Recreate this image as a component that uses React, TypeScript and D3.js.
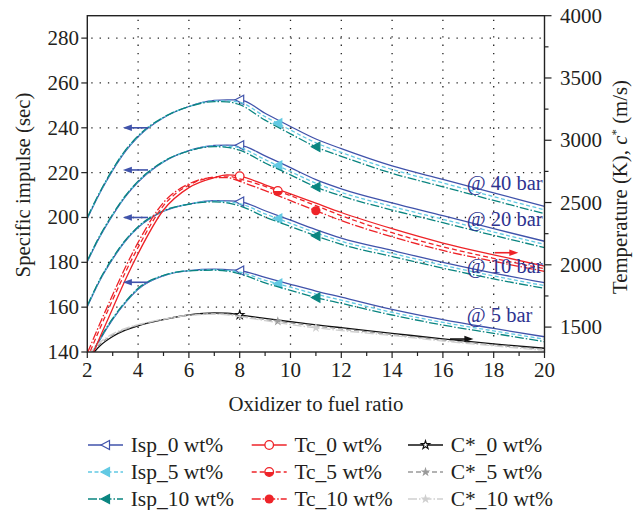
import * as d3 from "d3";

// O/F ratios shared by every series
const ratios = [2, 2.5, 3, 3.5, 4, 5, 6, 7, 7.5, 8, 9, 10, 11, 12, 14, 16, 18, 20];

// specific impulse (sec), 0 / 5 / 10 wt% at each chamber pressure
const isp0At40 = [199.5, 211, 221, 229.5, 236, 244.5, 249.5, 252.2, 252.5, 252.5, 246.5, 240.6, 235, 230.7, 223, 217, 211, 205];
const isp5At40 = [199.8, 211.3, 221.3, 229.8, 236.2, 244.6, 249.5, 252, 252, 251.4, 245, 239, 233.3, 229, 221.4, 215.4, 209.3, 203.4];
const isp10At40 = [200, 211.5, 221.5, 230, 236.4, 244.7, 249.4, 251.7, 251.6, 250.3, 243.4, 237.3, 231.5, 227.3, 219.7, 213.7, 207.6, 201.7];

const isp0At20 = [180.3, 191.5, 201, 209.3, 215.8, 224.8, 229.8, 232.1, 232.3, 232.2, 227.5, 222.2, 216.9, 212.8, 206.5, 200.8, 195, 189.4];
const isp5At20 = [180.6, 191.8, 201.3, 209.5, 216, 224.9, 229.8, 231.9, 231.8, 231.1, 225.8, 220.5, 215.3, 211.2, 204.9, 199.2, 193.5, 188];
const isp10At20 = [180.8, 192, 201.5, 209.7, 216.2, 225, 229.7, 231.6, 231.3, 230, 224.3, 219, 213.6, 209.6, 203.3, 197.7, 192, 186.6];

const isp0At10 = [160.2, 172, 181.5, 189.5, 195.5, 202.8, 206, 207.5, 207.4, 207.1, 203, 198.8, 194.6, 190.8, 185.3, 180, 175.2, 170.9];
const isp5At10 = [160.5, 172.3, 181.8, 189.7, 195.7, 202.9, 206, 207.3, 207, 206.2, 201.6, 197.4, 193.2, 189.4, 184, 178.7, 173.9, 169.6];
const isp10At10 = [160.7, 172.5, 182, 189.9, 195.9, 203, 205.9, 207, 206.5, 205.2, 200.2, 196, 191.8, 188, 182.6, 177.4, 172.6, 168.4];

const isp0At5 = [135, 145.5, 154.5, 162, 168, 174, 176.3, 176.9, 176.7, 176.3, 173.3, 170.2, 167.2, 164.5, 159, 154.4, 150.5, 146.8];
const isp5At5 = [135.3, 145.8, 154.8, 162.2, 168.2, 174.1, 176.3, 176.7, 176.4, 175.6, 172, 168.9, 165.8, 163.1, 157.7, 153.2, 149.4, 145.7];
const isp10At5 = [135.5, 146, 155, 162.4, 168.4, 174.2, 176.2, 176.5, 176.1, 174.9, 170.8, 167.5, 164.3, 161.7, 156.5, 152, 148.3, 144.6];

// chamber temperature (K)
const tc0 = [1180, 1420, 1650, 1880, 2090, 2440, 2620, 2700, 2722, 2712, 2642, 2570, 2495, 2420, 2290, 2175, 2080, 1990];
const tc5 = [1250, 1490, 1720, 1940, 2140, 2475, 2640, 2705, 2712, 2690, 2630, 2555, 2475, 2395, 2258, 2145, 2052, 1968];
const tc10 = [1290, 1530, 1760, 1980, 2180, 2500, 2650, 2700, 2700, 2670, 2595, 2515, 2434, 2355, 2225, 2115, 2028, 1948];

// characteristic velocity (m/s)
const cStar0 = [1230, 1350, 1425, 1475, 1510, 1560, 1597, 1613, 1612, 1598, 1570, 1543, 1517, 1495, 1450, 1405, 1365, 1330];
const cStar5 = [1250, 1365, 1435, 1482, 1515, 1562, 1596, 1608, 1604, 1590, 1560, 1533, 1508, 1485, 1440, 1396, 1356, 1321];
const cStar10 = [1265, 1378, 1445, 1490, 1520, 1564, 1594, 1603, 1598, 1583, 1552, 1520, 1494, 1472, 1432, 1388, 1349, 1313];

const xTicks = [2, 4, 6, 8, 10, 12, 14, 16, 18, 20];
const xGrid = [4, 6, 8, 10, 12, 14, 16, 18];
const leftTicks = [140, 160, 180, 200, 220, 240, 260, 280];
const rightTicks = [1500, 2000, 2500, 3000, 3500, 4000];
const markerRatios = [8, 9.5, 11];
const pressureLabels = ["@ 40 bar", "@ 20 bar", "@ 10 bar", "@ 5 bar"];
const pressureLabelIsp = [212.3, 196.4, 175.2, 153.6];

const W = 643;
const H = 510;
const FONT = "'Liberation Serif', 'Times New Roman', serif";
const BLUE = "#4053ab";
const CYAN = "#62c9e3";
const TEAL = "#0a8580";
const RED = "#ee2328";
const NAVY = "#2e3390";
const INK = "#231f20";

const x = d3.scaleLinear().domain([2, 20]).range([87.3, 544.5]);
const yL = d3.scaleLinear().domain([140, 290]).range([352, 15.7]);
const yR = d3.scaleLinear().domain([1300, 4000]).range([352, 15.7]);

type Marker = "triOpen" | "tri" | "circOpen" | "circHalf" | "circ" | "starOpen" | "star";
interface Style { color: string; dash?: string; marker: Marker; fill: string; }

const ispStyles: Style[] = [
  { color: BLUE, marker: "triOpen", fill: "#fff" },
  { color: CYAN, dash: "4 2.5", marker: "tri", fill: CYAN },
  { color: TEAL, dash: "9 2 1.5 2", marker: "tri", fill: TEAL },
];
const tcStyles: Style[] = [
  { color: RED, marker: "circOpen", fill: "#fff" },
  { color: RED, dash: "5 3", marker: "circHalf", fill: RED },
  { color: RED, dash: "9 2 1.5 2", marker: "circ", fill: RED },
];
const cStyles: Style[] = [
  { color: "#111", marker: "starOpen", fill: "#fff" },
  { color: "#9a9a9a", dash: "5 3", marker: "star", fill: "#9a9a9a" },
  { color: "#cfcfcf", dash: "9 2 1.5 2", marker: "star", fill: "#cfcfcf" },
];

const ispGroups = [
  [isp0At40, isp5At40, isp10At40],
  [isp0At20, isp5At20, isp10At20],
  [isp0At10, isp5At10, isp10At10],
  [isp0At5, isp5At5, isp10At5],
];
const tcGroup = [tc0, tc5, tc10];
const cGroup = [cStar0, cStar5, cStar10];

function valueAt(values: number[], r: number) {
  const i = d3.bisectLeft(ratios, r);
  if (ratios[i] === r) return values[i];
  const t = (r - ratios[i - 1]) / (ratios[i] - ratios[i - 1]);
  return values[i - 1] + t * (values[i] - values[i - 1]);
}

function linePath(values: number[], y: d3.ScaleLinear<number, number>) {
  return d3
    .line<number>()
    .x((_, i) => x(ratios[i]))
    .y((v) => y(v))
    .curve(d3.curveMonotoneX)(values) ?? "";
}

const starPath = d3.symbol(d3.symbolStar, 30)() ?? "";

function MarkerShape({ kind, color, fill, cx, cy }: { kind: Marker; color: string; fill: string; cx: number; cy: number }) {
  const t = `translate(${cx},${cy})`;
  if (kind === "triOpen" || kind === "tri")
    return <path transform={t} d="M-4.5,0L4,-4.6L4,4.6Z" fill={fill} stroke={color} strokeWidth={1.2} />;
  if (kind === "circOpen")
    return <circle cx={cx} cy={cy} r={4.3} fill="#fff" stroke={color} strokeWidth={1.3} />;
  if (kind === "circHalf")
    return (
      <g transform={t}>
        <circle r={4.3} fill="#fff" stroke={color} strokeWidth={1.3} />
        <path d="M-4.3,0A4.3,4.3 0 0 0 4.3,0Z" fill={color} />
      </g>
    );
  if (kind === "circ") return <circle cx={cx} cy={cy} r={4.6} fill={color} />;
  if (kind === "starOpen")
    return <path transform={t} d={d3.symbol(d3.symbolStar, 22)() ?? ""} fill="#fff" stroke={color} strokeWidth={1.1} />;
  return <path transform={t} d={starPath} fill={fill} />;
}

function Series({ values, style, y, mx }: { values: number[]; style: Style; y: d3.ScaleLinear<number, number>; mx: number }) {
  return (
    <g>
      <path d={linePath(values, y)} fill="none" stroke={style.color} strokeWidth={1.3} strokeDasharray={style.dash} clipPath="url(#plot)" />
      <MarkerShape kind={style.marker} color={style.color} fill={style.fill} cx={x(mx)} cy={y(valueAt(values, mx))} />
    </g>
  );
}

function Arrow({ x1, x2, y, color }: { x1: number; x2: number; y: number; color: string }) {
  const dir = Math.sign(x2 - x1);
  return (
    <g>
      <line x1={x1} x2={x2 - dir * 6} y1={y} y2={y} stroke={color} strokeWidth={1.6} />
      <path d={`M${x2},${y}L${x2 - dir * 9},${y - 3.2}L${x2 - dir * 9},${y + 3.2}Z`} fill={color} />
    </g>
  );
}

export default function App() {
  const top = yL.range()[1];
  const bottom = yL.range()[0];
  const left = x.range()[0];
  const right = x.range()[1];
  const minorX = d3.range(3, 20, 2);
  const minorR = d3.range(1500, 4000, 250).filter((v) => v % 500 !== 0);
  const legendLeft = [88, 251.7, 408];
  const legendRows = [445, 472, 499];
  const legendItems = [
    { name: "Isp", styles: ispStyles },
    { name: "Tc", styles: tcStyles },
    { name: "C*", styles: cStyles },
  ];
  const loadings = ["0 wt%", "5 wt%", "10 wt%"];

  return (
    <svg width={W} height={H} style={{ position: "absolute", left: 0, top: 0, background: "#fff" }} fontFamily={FONT}>
      <defs>
        <clipPath id="plot">
          <rect x={left} y={top} width={right - left} height={bottom - top} />
        </clipPath>
      </defs>

      {/* dotted grid */}
      <g stroke="#222" strokeWidth={1.3} strokeDasharray="1.3 7">
        {xGrid.map((t) => (
          <line key={t} x1={x(t)} x2={x(t)} y1={top + 4} y2={bottom} />
        ))}
        {leftTicks.slice(1).map((t) => (
          <line key={t} x1={left + 4} x2={right} y1={yL(t)} y2={yL(t)} />
        ))}
      </g>

      {/* curves */}
      {ispGroups.map((g, gi) =>
        g.map((values, li) => (
          <Series key={`i${gi}${li}`} values={values} style={ispStyles[li]} y={yL} mx={markerRatios[li]} />
        ))
      )}
      {cGroup.map((values, li) => (
        <Series key={`c${li}`} values={values} style={cStyles[li]} y={yR} mx={markerRatios[li]} />
      ))}
      {tcGroup.map((values, li) => (
        <Series key={`t${li}`} values={values} style={tcStyles[li]} y={yR} mx={markerRatios[li]} />
      ))}

      {/* axis pointers */}
      {[240, 221.2, 200, 171.1].map((v) => (
        <Arrow key={v} x1={x(4.39)} x2={x(3.4)} y={yL(v)} color={BLUE} />
      ))}
      <Arrow x1={x(18.05)} x2={x(18.97)} y={yR(2097)} color={RED} />
      <Arrow x1={x(16.28)} x2={x(17.2)} y={yR(1404)} color="#111" />

      {pressureLabels.map((s, i) => (
        <text key={s} x={x(16.94)} y={yL(pressureLabelIsp[i])} fontSize={20.5} fill={NAVY}>
          {s}
        </text>
      ))}

      {/* frame */}
      <rect x={left} y={top} width={right - left} height={bottom - top} fill="none" stroke="#222" strokeWidth={1.4} />

      {/* bottom axis */}
      {xTicks.map((t) => (
        <g key={t}>
          <line x1={x(t)} x2={x(t)} y1={bottom} y2={bottom + 6} stroke="#222" strokeWidth={1.2} />
          <text x={x(t)} y={376.5} fontSize={21} textAnchor="middle" fill={INK}>
            {t}
          </text>
        </g>
      ))}
      {minorX.map((t) => (
        <line key={t} x1={x(t)} x2={x(t)} y1={bottom} y2={bottom + 4} stroke="#222" strokeWidth={1.2} />
      ))}
      <text x={(left + right) / 2} y={411} fontSize={20.8} textAnchor="middle" fill={INK}>
        Oxidizer to fuel ratio
      </text>

      {/* left axis */}
      {leftTicks.map((t) => (
        <g key={t}>
          <line x1={left - 6} x2={left} y1={yL(t)} y2={yL(t)} stroke="#222" strokeWidth={1.2} />
          <text x={79} y={yL(t) + 7} fontSize={21} textAnchor="end" fill={INK}>
            {t}
          </text>
        </g>
      ))}
      <text transform={`translate(30,${185}) rotate(-90)`} fontSize={20.8} textAnchor="middle" fill={INK}>
        Specific impulse (sec)
      </text>

      {/* right axis */}
      {rightTicks.map((t) => (
        <g key={t}>
          <line x1={right} x2={right + 7} y1={yR(t)} y2={yR(t)} stroke="#222" strokeWidth={1.2} />
          <text x={560} y={yR(t) + 7} fontSize={21} fill={INK}>
            {t}
          </text>
        </g>
      ))}
      {minorR.map((t) => (
        <line key={t} x1={right} x2={right + 4} y1={yR(t)} y2={yR(t)} stroke="#222" strokeWidth={1.2} />
      ))}
      <text transform={`translate(627,${187}) rotate(-90)`} fontSize={20.8} textAnchor="middle" fill={INK}>
        Temperature (K), <tspan fontStyle="italic">c</tspan>
        <tspan dy={-7} fontSize={13}>*</tspan>
        <tspan dy={7}> (m/s)</tspan>
      </text>

      {/* legend */}
      {legendItems.map((item, ci) =>
        item.styles.map((st, ri) => {
          const lx = legendLeft[ci];
          const ly = legendRows[ri];
          return (
            <g key={`${ci}${ri}`}>
              <line x1={lx} x2={lx + 35} y1={ly} y2={ly} stroke={st.color} strokeWidth={1.3} strokeDasharray={st.dash} />
              <MarkerShape kind={st.marker} color={st.color} fill={st.fill} cx={lx + 17.5} cy={ly} />
              <text x={lx + 42.7} y={ly + 7} fontSize={21.5} fill={INK}>
                {item.name}_{loadings[ri]}
              </text>
            </g>
          );
        })
      )}
    </svg>
  );
}
